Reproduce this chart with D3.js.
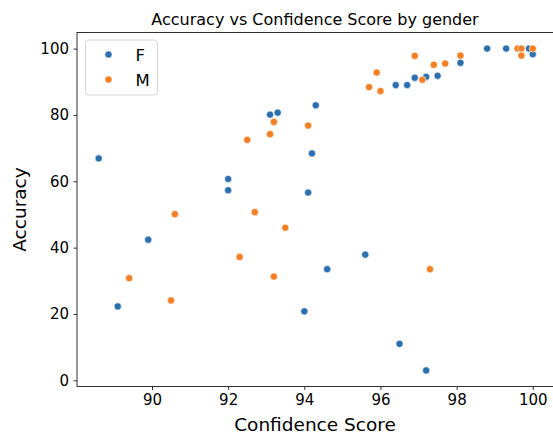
<!DOCTYPE html>
<html><head><meta charset="utf-8">
<script src="https://cdn.jsdelivr.net/npm/d3@7"></script>
<style>body{margin:0;background:#fff}svg{display:block}text{font-family:"DejaVu Sans",sans-serif;fill:#000}</style>
</head><body>
<svg id="c" width="553" height="434"></svg>
<script>
const title = "Accuracy vs Confidence Score by gender";
const xLabel = "Confidence Score";
const yLabel = "Accuracy";
const genders = ["F", "M"];
const colors = ["#2c6fad", "#f47f24"];
const xTicks = [90, 92, 94, 96, 98, 100];
const yTicks = [0, 20, 40, 60, 80, 100];
const fConf = [88.6, 92.0, 92.0, 89.9, 89.1, 94.1, 95.6, 94.6, 94.0, 96.5, 97.2, 94.3, 93.1, 93.3, 94.2, 98.8, 99.3, 99.9, 100.0, 98.1, 97.5, 97.2, 96.9, 96.4, 96.7];
const fAcc  = [66.9, 60.7, 57.3, 42.4, 22.3, 56.6, 37.9, 33.5, 20.8, 11.0, 3.0, 82.9, 80.1, 80.7, 68.4, 100, 100, 100, 98.3, 95.7, 91.8, 91.5, 91.2, 89.0, 89.0];
const mConf = [90.6, 92.3, 89.4, 90.5, 92.7, 93.5, 93.2, 97.3, 95.9, 95.7, 96.0, 93.2, 94.1, 93.1, 92.5, 99.6, 99.7, 100.0, 99.7, 96.9, 98.1, 97.7, 97.4, 97.1];
const mAcc  = [50.1, 37.2, 30.8, 24.1, 50.7, 46.0, 31.3, 33.5, 92.8, 88.4, 87.2, 77.9, 76.8, 74.2, 72.5, 100, 100, 100, 97.9, 97.8, 97.9, 95.5, 95.1, 90.6];

const svg = d3.select("#c");
const L = 77, R = 554.5, T = 32.5, B = 386.5;
const x = d3.scaleLinear().domain([88.03, 100.57]).range([L, R]);
const y = d3.scaleLinear().domain([-1.85, 104.85]).range([B, T]);

const xAxis = svg.append("g").attr("transform", `translate(0,${B})`)
  .call(d3.axisBottom(x).tickValues(xTicks).tickSize(3.5).tickPadding(4.5).tickFormat(d3.format("d")));
const yAxis = svg.append("g").attr("transform", `translate(${L},0)`)
  .call(d3.axisLeft(y).tickValues(yTicks).tickSize(3.5).tickPadding(4.5).tickFormat(d3.format("d")));
[xAxis, yAxis].forEach(a => {
  a.select(".domain").remove();
  a.selectAll(".tick line").attr("stroke", "#000").attr("stroke-width", 0.8);
  a.selectAll(".tick text").attr("font-size", 15).attr("font-family", "DejaVu Sans").attr("fill", "#000");
});
svg.append("rect").attr("x", L).attr("y", T).attr("width", R - L).attr("height", B - T)
  .attr("fill", "none").attr("stroke", "#000").attr("stroke-width", 0.8);

const data = [
  fConf.map((c, k) => ({c, a: fAcc[k], s: 0})),
  mConf.map((c, k) => ({c, a: mAcc[k], s: 1}))
].flat();
svg.append("g").selectAll("circle").data(data).join("circle")
  .attr("cx", d => x(d.c)).attr("cy", d => y(d.a)).attr("r", 3.6)
  .attr("fill", d => colors[d.s]).attr("stroke", "#fff").attr("stroke-width", 0.6);

svg.append("text").attr("x", (77 + 553) / 2).attr("y", 24.5).attr("text-anchor", "middle")
  .attr("font-size", 16).text(title);
svg.append("text").attr("x", (77 + 553) / 2).attr("y", 431).attr("text-anchor", "middle")
  .attr("font-size", 18.5).text(xLabel);
svg.append("text").attr("transform", `translate(26,${(T + B) / 2}) rotate(-90)`).attr("text-anchor", "middle")
  .attr("font-size", 18.5).text(yLabel);

const lg = svg.append("g");
lg.append("rect").attr("x", 85.5).attr("y", 40).attr("width", 72).attr("height", 55).attr("rx", 3)
  .attr("fill", "#fff").attr("fill-opacity", 0.8).attr("stroke", "#ccc").attr("stroke-width", 0.8);
genders.forEach((g, i) => {
  lg.append("circle").attr("cx", 108.5).attr("cy", 54.5 + i * 25).attr("r", 3.6)
    .attr("fill", colors[i]).attr("stroke", "#fff").attr("stroke-width", 0.6);
  lg.append("text").attr("x", 135.5).attr("y", 60.5 + i * 25).attr("font-size", 16.5).text(g);
});
</script>
</body></html>
